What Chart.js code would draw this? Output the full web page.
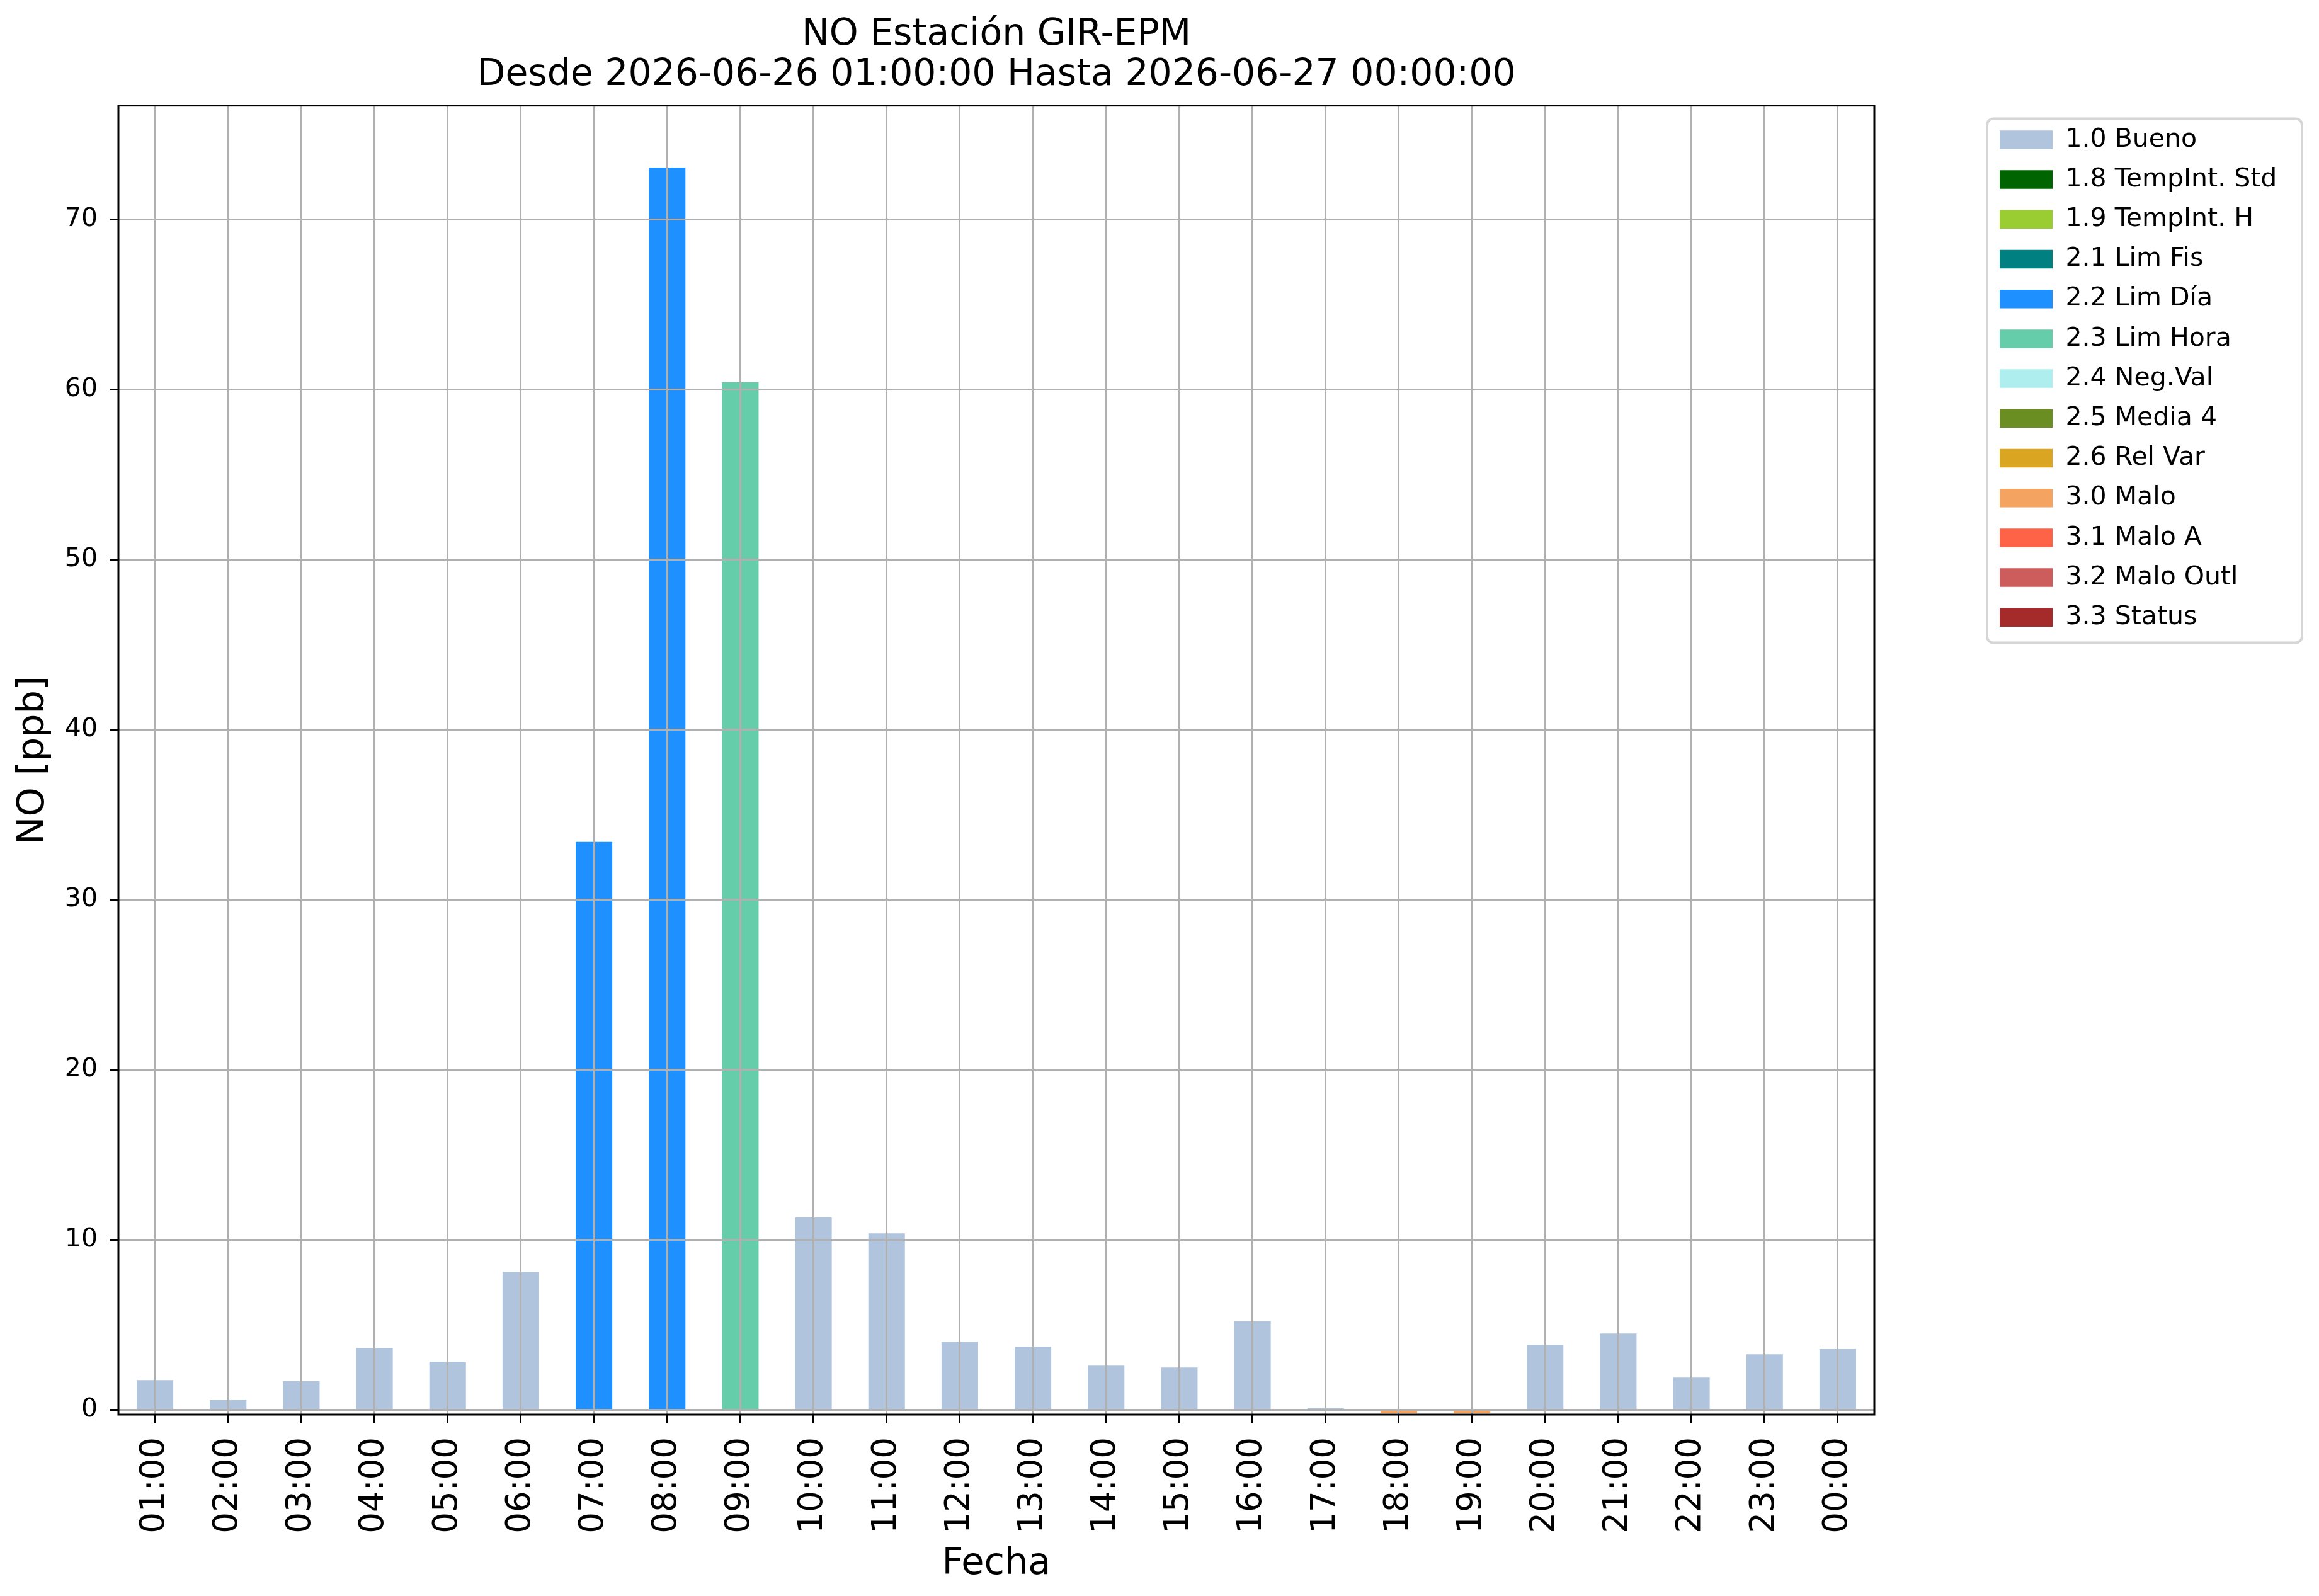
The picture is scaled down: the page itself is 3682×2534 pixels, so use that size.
<!DOCTYPE html>
<html>
<head>
<meta charset="utf-8">
<title>NO Estación GIR-EPM</title>
<script src="https://cdn.jsdelivr.net/npm/chart.js@4.4.1/dist/chart.umd.min.js"></script>
<style>
  html, body { margin: 0; padding: 0; background: #fff; }
  canvas { display: block; }
</style>
</head>
<body>
<canvas id="noChart" width="3682" height="2534"></canvas>
<script>
// Hourly NO bars coloured by validation flag

const hours = ['01:00', '02:00', '03:00', '04:00', '05:00', '06:00', '07:00', '08:00',
  '09:00', '10:00', '11:00', '12:00', '13:00', '14:00', '15:00', '16:00',
  '17:00', '18:00', '19:00', '20:00', '21:00', '22:00', '23:00', '00:00'];
const yTicks = [0, 10, 20, 30, 40, 50, 60, 70];

const flagLabels = ['1.0 Bueno', '1.8 TempInt. Std', '1.9 TempInt. H', '2.1 Lim Fis',
  '2.2 Lim Día', '2.3 Lim Hora', '2.4 Neg.Val', '2.5 Media 4', '2.6 Rel Var',
  '3.0 Malo', '3.1 Malo A', '3.2 Malo Outl', '3.3 Status'];
const flagColors = ['#b0c4de', '#006400', '#9acd32', '#008080', '#1e90ff', '#66cdaa',
  '#afeeee', '#6b8e23', '#daa520', '#f4a460', '#ff6347', '#cd5c5c', '#a52a2a'];

// one value per hour, null where the hour has another flag
const bueno = [1.75, 0.57, 1.68, 3.64, 2.83, 8.12, null, null, null, 11.31, 10.38, 4.01,
  3.72, 2.60, 2.49, 5.20, 0.12, null, null, 3.83, 4.49, 1.90, 3.27, 3.57];
const limDia = [null, null, null, null, null, null, 33.4, 73.06, null, null, null, null,
  null, null, null, null, null, null, null, null, null, null, null, null];
const limHora = [null, null, null, null, null, null, null, null, 60.43, null, null, null,
  null, null, null, null, null, null, null, null, null, null, null, null];
const malo = [null, null, null, null, null, null, null, null, null, null, null, null,
  null, null, null, null, null, -0.2, -0.2, null, null, null, null, null];
// flags without data in this period
const tempIntStd = [];
const tempIntH = [];
const limFis = [];
const negVal = [];
const media4 = [];
const relVar = [];
const maloA = [];
const maloOutl = [];
const status = [];

const flagSeries = [bueno, tempIntStd, tempIntH, limFis, limDia, limHora, negVal,
  media4, relVar, malo, maloA, maloOutl, status];

Chart.defaults.font.family = "'DejaVu Sans', sans-serif";
Chart.defaults.color = '#000';

const GRID = '#b0b0b0';

// matplotlib puts the grid above the bars and boxes the axes on all four sides
const gridOnTop = {
  id: 'gridOnTop',
  afterDatasetsDraw(chart) {
    const area = chart.chartArea;
    chart.scales.x.drawGrid(area);
    chart.scales.y.drawGrid(area);
    const ctx = chart.ctx;
    ctx.save();
    ctx.strokeStyle = '#000';
    ctx.lineWidth = 3;
    ctx.strokeRect(area.left, area.top, area.right - area.left, area.bottom - area.top);
    ctx.restore();
  }
};

// legend sits outside the axes, top right, inside a light rounded frame
const legendFrame = {
  id: 'legendFrame',
  beforeLayout(chart) {
    const lg = chart.legend;
    if (lg && !lg._fixedWidth) {
      const fit = lg.fit;
      lg.fit = function () { fit.call(this); this.width = 706; };
      lg._fixedWidth = true;
    }
  },
  afterLayout(chart) {
    const lg = chart.legend;
    const pad = lg.options.labels.padding;
    lg.left = 3175 - pad;
    lg.right = lg.left + lg.width;
    lg.top = 201.4 - pad;
    lg.bottom = lg.top + lg.height;
  },
  afterDraw(chart) {
    const lg = chart.legend;
    const pad = lg.options.labels.padding;
    const x = lg.left + pad - 20, y = lg.top + pad - 13, w = 500, h = 832, r = 10;
    const ctx = chart.ctx;
    ctx.save();
    ctx.strokeStyle = '#d6d6d6';
    ctx.lineWidth = 4;
    ctx.beginPath();
    ctx.roundRect(x, y, w, h, r);
    ctx.stroke();
    ctx.restore();
  }
};

const ctx = document.getElementById('noChart').getContext('2d');
new Chart(ctx, {
  type: 'bar',
  data: {
    labels: hours,
    datasets: flagLabels.map((label, i) => ({
      label: label,
      data: flagSeries[i],
      backgroundColor: flagColors[i],
      borderWidth: 0,
      categoryPercentage: 1.0,
      barPercentage: 0.5
    }))
  },
  options: {
    responsive: false,
    animation: false,
    devicePixelRatio: 1,
    layout: { padding: 0 },
    scales: {
      x: {
        stacked: true,
        offset: true,
        grid: { offset: false, color: GRID, lineWidth: 3, tickColor: '#000', tickWidth: 3, tickLength: 14 },
        border: { display: false },
        ticks: { font: { size: 53 }, color: '#000', minRotation: 90, maxRotation: 90, padding: 22, autoSkip: false },
        title: { display: true, text: 'Fecha', font: { size: 59 }, color: '#000', padding: { top: 0, bottom: 15 } },
        afterFit(scale) { scale.height = 288; }
      },
      y: {
        min: -0.28,
        max: 76.7,
        afterBuildTicks(scale) { scale.ticks = yTicks.map(v => ({ value: v })); },
        grid: { color: GRID, lineWidth: 3, tickColor: '#000', tickWidth: 3, tickLength: 14 },
        border: { display: false },
        ticks: { font: { size: 41 }, color: '#000', padding: 19 },
        title: { display: true, text: 'NO [ppb]', font: { size: 59 }, color: '#000', padding: { top: 18, bottom: 0 } },
        afterFit(scale) { scale.width = 188; }
      }
    },
    plugins: {
      title: {
        display: true,
        fullSize: false,
        text: ['NO Estación GIR-EPM', 'Desde 2026-06-26 01:00:00 Hasta 2026-06-27 00:00:00'],
        font: { size: 58.4, weight: 'normal', lineHeight: 1.11 },
        color: '#000',
        padding: { top: 23, bottom: 15 }
      },
      legend: {
        position: 'right',
        fullSize: false,
        align: 'start',
        labels: { boxWidth: 84, boxHeight: 29.5, padding: 22.2, font: { size: 41 }, color: '#000' }
      },
      tooltip: { enabled: false }
    }
  },
  plugins: [gridOnTop, legendFrame]
});
</script>
</body>
</html>
